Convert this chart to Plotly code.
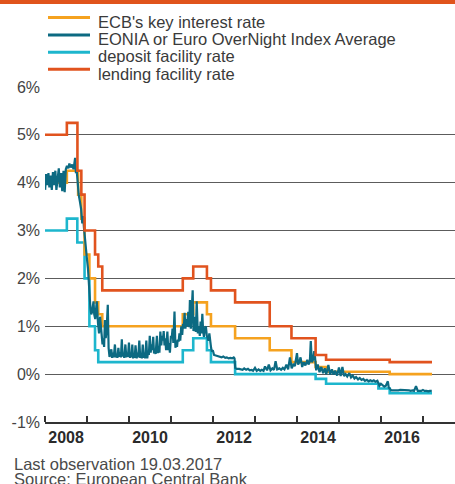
import plotly.graph_objects as go

# ECB policy rates (step series, change dates)
key_dates = ["2008-01-01", "2008-07-09", "2008-10-15", "2008-11-12", "2008-12-10",
             "2009-01-21", "2009-03-11", "2009-04-08", "2009-05-13", "2011-04-13",
             "2011-07-13", "2011-11-09", "2011-12-14", "2012-07-11", "2013-05-08",
             "2013-11-13", "2014-06-11", "2014-09-10", "2016-03-16", "2017-03-19"]
key_rate = [4.00, 4.25, 3.75, 3.25, 2.50, 2.00, 1.50, 1.25, 1.00, 1.25,
            1.50, 1.25, 1.00, 0.75, 0.50, 0.25, 0.15, 0.05, 0.00, 0.00]

deposit_dates = ["2008-01-01", "2008-07-09", "2008-10-08", "2008-12-10", "2009-01-21",
                 "2009-03-11", "2009-04-08", "2011-04-13", "2011-07-13", "2011-11-09",
                 "2011-12-14", "2012-07-11", "2014-06-11", "2014-09-10", "2015-12-09",
                 "2016-03-16", "2017-03-19"]
deposit_rate = [3.00, 3.25, 2.75, 2.00, 1.00, 0.50, 0.25, 0.50, 0.75, 0.50,
                0.25, 0.00, -0.10, -0.20, -0.30, -0.40, -0.40]

lending_dates = ["2008-01-01", "2008-07-09", "2008-10-09", "2008-11-12", "2008-12-10",
                 "2009-03-11", "2009-04-08", "2009-05-13", "2011-04-13", "2011-07-13",
                 "2011-11-09", "2011-12-14", "2012-07-11", "2013-05-08", "2013-11-13",
                 "2014-06-11", "2014-09-10", "2016-03-16", "2017-03-19"]
lending_rate = [5.00, 5.25, 4.25, 3.75, 3.00, 2.50, 2.25, 1.75, 2.00, 2.25,
                2.00, 1.75, 1.50, 1.00, 0.75, 0.40, 0.30, 0.25, 0.25]

# EONIA
eonia_obs = [
    ("2008-01-02", 3.85), ("2008-01-10", 4.18), ("2008-01-21", 3.95), ("2008-01-31", 4.20),
    ("2008-02-08", 3.90), ("2008-02-19", 4.15), ("2008-02-29", 3.85), ("2008-03-10", 4.22),
    ("2008-03-19", 3.95), ("2008-03-31", 4.25), ("2008-04-09", 3.85), ("2008-04-18", 4.10),
    ("2008-04-30", 4.30), ("2008-05-09", 3.90), ("2008-05-20", 4.20), ("2008-05-30", 3.82),
    ("2008-06-10", 4.25), ("2008-06-20", 3.80), ("2008-06-30", 4.28), ("2008-07-10", 4.35),
    ("2008-07-22", 4.30), ("2008-07-31", 4.40), ("2008-08-12", 4.32), ("2008-08-25", 4.38),
    ("2008-09-05", 4.28), ("2008-09-19", 4.52), ("2008-09-26", 4.20), ("2008-10-03", 4.25),
    ("2008-10-10", 3.95), ("2008-10-20", 3.75), ("2008-10-31", 3.60), ("2008-11-10", 3.45),
    ("2008-11-20", 3.15), ("2008-11-28", 3.30), ("2008-12-05", 3.05), ("2008-12-15", 2.75),
    ("2008-12-24", 2.55), ("2008-12-31", 2.40),
    ("2009-01-09", 2.20), ("2009-01-16", 1.95), ("2009-01-23", 1.50), ("2009-01-30", 1.38),
    ("2009-02-06", 1.25), ("2009-02-13", 1.30), ("2009-02-26", 1.52), ("2009-03-04", 1.25),
    ("2009-03-13", 1.15), ("2009-03-26", 1.52), ("2009-04-06", 1.06), ("2009-04-15", 0.85),
    ("2009-04-24", 1.20), ("2009-04-30", 1.00), ("2009-05-08", 0.85), ("2009-05-15", 0.62),
    ("2009-05-22", 0.75), ("2009-05-29", 0.57), ("2009-06-05", 1.13), ("2009-06-12", 0.75),
    ("2009-06-19", 0.90), ("2009-06-30", 1.45),
    ("2009-07-07", 0.55), ("2009-07-15", 0.36), ("2009-07-23", 0.43), ("2009-07-31", 0.52),
    ("2009-08-07", 0.34), ("2009-08-14", 0.45), ("2009-08-21", 0.35), ("2009-08-31", 0.62),
    ("2009-09-08", 0.35), ("2009-09-15", 0.42), ("2009-09-22", 0.34), ("2009-09-30", 0.55),
    ("2009-10-08", 0.36), ("2009-10-15", 0.46), ("2009-10-22", 0.35), ("2009-10-30", 0.73),
    ("2009-11-06", 0.37), ("2009-11-13", 0.44), ("2009-11-20", 0.34), ("2009-11-30", 0.62),
    ("2009-12-08", 0.35), ("2009-12-15", 0.45), ("2009-12-22", 0.36), ("2009-12-31", 0.66),
    ("2010-01-08", 0.34), ("2010-01-15", 0.43), ("2010-01-22", 0.35), ("2010-01-29", 0.62),
    ("2010-02-05", 0.33), ("2010-02-12", 0.44), ("2010-02-19", 0.34), ("2010-02-26", 0.60),
    ("2010-03-08", 0.33), ("2010-03-15", 0.45), ("2010-03-22", 0.35), ("2010-03-31", 0.70),
    ("2010-04-08", 0.34), ("2010-04-15", 0.43), ("2010-04-22", 0.33), ("2010-04-30", 0.62),
    ("2010-05-07", 0.34), ("2010-05-14", 0.45), ("2010-05-21", 0.33), ("2010-05-31", 0.70),
    ("2010-06-08", 0.33), ("2010-06-15", 0.46), ("2010-06-22", 0.40), ("2010-06-30", 0.80),
    ("2010-07-08", 0.45), ("2010-07-15", 0.62), ("2010-07-22", 0.50), ("2010-07-30", 0.78),
    ("2010-08-06", 0.43), ("2010-08-13", 0.50), ("2010-08-20", 0.42), ("2010-08-31", 0.80),
    ("2010-09-08", 0.44), ("2010-09-15", 0.55), ("2010-09-22", 0.45), ("2010-09-30", 0.89),
    ("2010-10-08", 0.60), ("2010-10-15", 0.80), ("2010-10-22", 0.70), ("2010-10-29", 0.90),
    ("2010-11-05", 0.60), ("2010-11-12", 0.75), ("2010-11-19", 0.50), ("2010-11-30", 0.89),
    ("2010-12-08", 0.50), ("2010-12-15", 0.65), ("2010-12-22", 0.45), ("2010-12-31", 0.80),
    ("2011-01-07", 0.75), ("2011-01-14", 0.95), ("2011-01-21", 0.65), ("2011-01-31", 1.31),
    ("2011-02-08", 0.55), ("2011-02-15", 0.70), ("2011-02-22", 0.57), ("2011-02-28", 0.72),
    ("2011-03-08", 0.68), ("2011-03-15", 0.85), ("2011-03-22", 0.70), ("2011-03-31", 1.00),
    ("2011-04-08", 0.82), ("2011-04-15", 1.05), ("2011-04-22", 0.95), ("2011-04-29", 1.28),
    ("2011-05-06", 0.95), ("2011-05-13", 1.15), ("2011-05-20", 1.00), ("2011-05-31", 1.30),
    ("2011-06-08", 0.98), ("2011-06-14", 1.55), ("2011-06-22", 0.95), ("2011-06-30", 1.40),
    ("2011-07-08", 1.75), ("2011-07-15", 0.90), ("2011-07-22", 1.15), ("2011-07-29", 1.20),
    ("2011-08-05", 0.88), ("2011-08-12", 1.52), ("2011-08-22", 0.85), ("2011-08-31", 1.00),
    ("2011-09-08", 0.80), ("2011-09-15", 1.10), ("2011-09-22", 0.85), ("2011-09-30", 1.26),
    ("2011-10-07", 0.90), ("2011-10-14", 0.78), ("2011-10-21", 0.95), ("2011-10-31", 1.00),
    ("2011-11-08", 0.80), ("2011-11-15", 0.72), ("2011-11-22", 0.70), ("2011-11-30", 0.85),
    ("2011-12-08", 0.65), ("2011-12-15", 0.55), ("2011-12-22", 0.47), ("2011-12-30", 0.50),
    ("2012-01-10", 0.40), ("2012-01-31", 0.38), ("2012-02-15", 0.37), ("2012-02-29", 0.36),
    ("2012-03-15", 0.35), ("2012-03-30", 0.37), ("2012-04-16", 0.34), ("2012-04-30", 0.35),
    ("2012-05-15", 0.33), ("2012-05-31", 0.34), ("2012-06-15", 0.33), ("2012-06-29", 0.35),
    ("2012-07-06", 0.33), ("2012-07-12", 0.13), ("2012-07-25", 0.11), ("2012-08-15", 0.11),
    ("2012-08-31", 0.10), ("2012-09-14", 0.09), ("2012-09-28", 0.12), ("2012-10-15", 0.09),
    ("2012-10-31", 0.11), ("2012-11-15", 0.08), ("2012-11-30", 0.09), ("2012-12-14", 0.07),
    ("2012-12-31", 0.13),
    ("2013-01-15", 0.07), ("2013-01-31", 0.10), ("2013-02-15", 0.07), ("2013-02-28", 0.09),
    ("2013-03-15", 0.07), ("2013-03-28", 0.16), ("2013-04-15", 0.08), ("2013-04-30", 0.20),
    ("2013-05-15", 0.08), ("2013-05-31", 0.12), ("2013-06-14", 0.09), ("2013-06-28", 0.27),
    ("2013-07-12", 0.10), ("2013-07-31", 0.12), ("2013-08-15", 0.09), ("2013-08-30", 0.13),
    ("2013-09-13", 0.10), ("2013-09-30", 0.20), ("2013-10-15", 0.10), ("2013-10-31", 0.35),
    ("2013-11-15", 0.12), ("2013-11-29", 0.20), ("2013-12-13", 0.17), ("2013-12-31", 0.44),
    ("2014-01-10", 0.20), ("2014-01-20", 0.25), ("2014-01-31", 0.35), ("2014-02-14", 0.15),
    ("2014-02-28", 0.25), ("2014-03-14", 0.18), ("2014-03-31", 0.30), ("2014-04-10", 0.20),
    ("2014-04-22", 0.27), ("2014-04-30", 0.69), ("2014-05-09", 0.25), ("2014-05-20", 0.30),
    ("2014-05-30", 0.48), ("2014-06-06", 0.35), ("2014-06-16", 0.08), ("2014-06-30", 0.20),
    ("2014-07-15", 0.04), ("2014-07-31", 0.15), ("2014-08-15", 0.02), ("2014-08-29", 0.12),
    ("2014-09-12", 0.00), ("2014-09-30", 0.19), ("2014-10-15", -0.01), ("2014-10-31", 0.10),
    ("2014-11-14", -0.01), ("2014-11-28", 0.07), ("2014-12-15", -0.03), ("2014-12-31", 0.14),
    ("2015-01-15", -0.04), ("2015-01-30", 0.15), ("2015-02-13", -0.04), ("2015-02-27", 0.00),
    ("2015-03-13", -0.05), ("2015-03-31", 0.02), ("2015-04-15", -0.07), ("2015-04-30", -0.03),
    ("2015-05-15", -0.09), ("2015-05-29", -0.06), ("2015-06-15", -0.11), ("2015-06-30", -0.08),
    ("2015-07-15", -0.12), ("2015-07-31", -0.10), ("2015-08-14", -0.14), ("2015-08-31", -0.12),
    ("2015-09-15", -0.15), ("2015-09-30", -0.13), ("2015-10-15", -0.15), ("2015-10-30", -0.13),
    ("2015-11-13", -0.16), ("2015-11-30", -0.14), ("2015-12-09", -0.20), ("2015-12-18", -0.24),
    ("2015-12-31", -0.20),
    ("2016-01-15", -0.24), ("2016-01-29", -0.26), ("2016-02-12", -0.24), ("2016-02-29", -0.15),
    ("2016-03-08", -0.28), ("2016-03-17", -0.31), ("2016-03-31", -0.34), ("2016-04-15", -0.34),
    ("2016-04-29", -0.34), ("2016-05-13", -0.35), ("2016-05-31", -0.34), ("2016-06-15", -0.33),
    ("2016-06-30", -0.33), ("2016-07-15", -0.33), ("2016-07-29", -0.33), ("2016-08-15", -0.34),
    ("2016-08-31", -0.34), ("2016-09-15", -0.35), ("2016-09-30", -0.34), ("2016-10-14", -0.35),
    ("2016-10-31", -0.25), ("2016-11-15", -0.35), ("2016-11-30", -0.35), ("2016-12-15", -0.35),
    ("2016-12-30", -0.33),
    ("2017-01-13", -0.35), ("2017-01-31", -0.35), ("2017-02-15", -0.36), ("2017-02-28", -0.35),
    ("2017-03-17", -0.35),
]
eonia_dates = [d for d, _ in eonia_obs]
eonia_rate = [v for _, v in eonia_obs]

year_labels = ["2008", "2010", "2012", "2014", "2016"]
year_starts = [str(y) + "-01-01" for y in range(2008, 2018)]
y_ticks = [-1, 0, 1, 2, 3, 4, 5, 6]

series_names = ["ECB's key interest rate", "EONIA or Euro OverNight Index Average",
                "deposit facility rate", "lending facility rate"]
colors = ["#f5a21f", "#0c6a82", "#1db6cd", "#e1531e"]

FONT = "Liberation Sans, Arial, sans-serif"

fig = go.Figure()
fig.add_trace(go.Scatter(x=deposit_dates, y=deposit_rate, mode="lines", line_shape="hv",
                         line=dict(color=colors[2], width=2.6), name=series_names[2]))
fig.add_trace(go.Scatter(x=key_dates, y=key_rate, mode="lines", line_shape="hv",
                         line=dict(color=colors[0], width=2.6), name=series_names[0]))
fig.add_trace(go.Scatter(x=eonia_dates, y=eonia_rate, mode="lines",
                         line=dict(color=colors[1], width=2.2), name=series_names[1]))
fig.add_trace(go.Scatter(x=lending_dates, y=lending_rate, mode="lines", line_shape="hv",
                         line=dict(color=colors[3], width=2.6), name=series_names[3]))

# plot area: x 45..455 px, y 86..422 px
W, L, T, B = 410, 45, 86, 62
H = 484 - T - B


def px(x):
    return (x - L) / W


def py(y):
    return (484 - B - y) / H


shapes = [dict(type="rect", xref="paper", yref="paper", x0=px(0), x1=px(455),
               y0=py(4), y1=py(0), fillcolor="#e0541c", line=dict(width=0))]
annotations = []
swatch_y = [17.5, 35, 52.3, 69.3]
text_y = [22, 39.5, 56.5, 73.5]
for name, col, sy, ty in zip(series_names, colors, swatch_y, text_y):
    shapes.append(dict(type="line", xref="paper", yref="paper", x0=px(48), x1=px(90),
                       y0=py(sy), y1=py(sy), line=dict(color=col, width=3)))
    annotations.append(dict(text=name, xref="paper", yref="paper", x=px(96), y=py(ty),
                            xanchor="left", yanchor="middle", showarrow=False,
                            font=dict(family=FONT, size=16.5, color="#3a3a3a")))

for txt, ty in [("Last observation 19.03.2017", 464), ("Source: European Central Bank", 479)]:
    annotations.append(dict(text=txt, xref="paper", yref="paper", x=px(12), y=py(ty),
                            xanchor="left", yanchor="middle", showarrow=False,
                            font=dict(family=FONT, size=16.5, color="#4a4a4a")))

fig.update_layout(
    width=455, height=484,
    margin=dict(l=L, r=0, t=T, b=B),
    plot_bgcolor="white", paper_bgcolor="white",
    showlegend=False,
    shapes=shapes, annotations=annotations,
    xaxis=dict(type="date", range=["2008-01-01", "2017-10-05"],
               tickmode="array", tickvals=[y + "-07-02" for y in year_labels],
               ticktext=year_labels, ticks="", showgrid=False,
               tickfont=dict(family=FONT, size=16, color="#2a2a2a", weight="bold"),
               showline=True, linecolor="#333333", linewidth=1.5,
               minor=dict(tickmode="array", tickvals=year_starts, ticks="inside",
                          ticklen=6, tickwidth=1.5, tickcolor="#333333", showgrid=False)),
    yaxis=dict(range=[-1, 6.02], tickmode="array", tickvals=y_ticks,
               ticktext=[f"{v}%" for v in y_ticks], ticks="",
               showgrid=True, gridcolor="#5c5c5c", gridwidth=1, zeroline=False,
               tickfont=dict(family=FONT, size=16, color="#444444"), ticklabelstandoff=4),
)

# the page's default 8px body margin would shift the chart; drop it
fig.write_html("out.html", config={"displayModeBar": False},
               post_script="document.body.style.margin='0';")
